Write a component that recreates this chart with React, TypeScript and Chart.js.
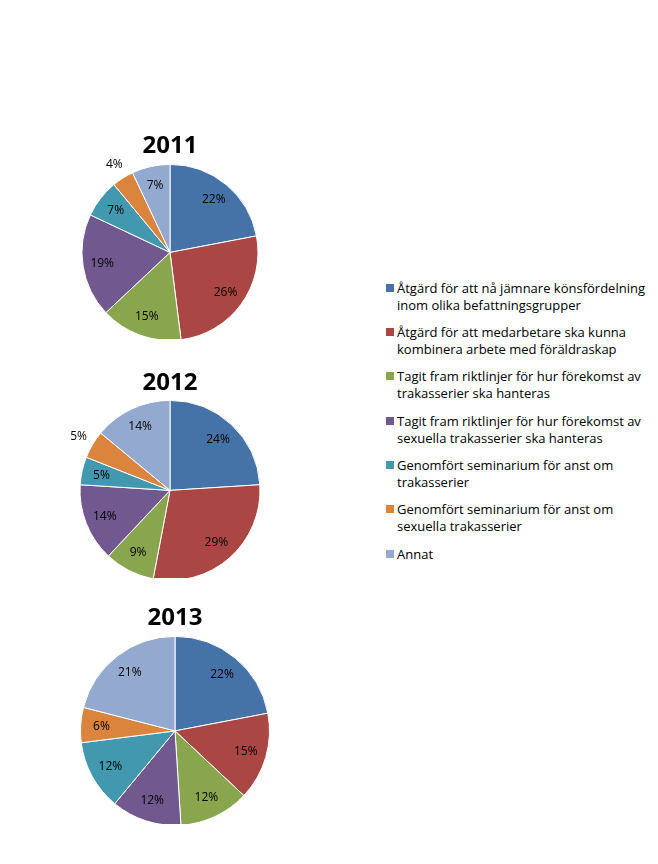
import React, { useEffect, useRef } from "react";
import { Chart, registerables } from "chart.js";

Chart.register(...registerables);

const categories: string[][] = [
  ["Åtgärd för att nå jämnare könsfördelning", "inom olika befattningsgrupper"],
  ["Åtgärd för att medarbetare ska kunna", "kombinera arbete med föräldraskap"],
  ["Tagit fram riktlinjer för hur förekomst av", "trakasserier ska hanteras"],
  ["Tagit fram riktlinjer för hur förekomst av", "sexuella trakasserier ska hanteras"],
  ["Genomfört seminarium för anst om", "trakasserier"],
  ["Genomfört seminarium för anst om", "sexuella trakasserier"],
  ["Annat"],
];

const years = ["2011", "2012", "2013"];
const values2011 = [22, 26, 15, 19, 7, 4, 7];
const values2012 = [24, 29, 9, 14, 5, 5, 14];
const values2013 = [22, 15, 12, 12, 12, 6, 21];
const outside2011 = [5];
const outside2012 = [5];
const outside2013: number[] = [];

const colors = ["#4572A7", "#AA4643", "#89A54E", "#71588F", "#4198AF", "#DB843D", "#93A9CF"];

const pctLabels = {
  id: "pctLabels",
  afterDatasetsDraw(chart: any, _args: any, opts: any) {
    const ctx = chart.ctx;
    const meta = chart.getDatasetMeta(0);
    const data = chart.data.datasets[0].data;
    const outside: number[] = (opts && opts.outside) || [];
    ctx.save();
    ctx.font = "12px 'Open Sans'";
    ctx.fillStyle = "#000";
    ctx.textAlign = "center";
    ctx.textBaseline = "middle";
    meta.data.forEach((arc: any, i: number) => {
      const p = arc.getProps(["x", "y", "startAngle", "endAngle", "outerRadius"], true);
      const mid = (p.startAngle + p.endAngle) / 2;
      const f = outside.includes(i) ? 1.18 : 0.78;
      ctx.fillText(
        data[i] + "%",
        p.x + Math.cos(mid) * p.outerRadius * f,
        p.y + Math.sin(mid) * p.outerRadius * f
      );
    });
    ctx.restore();
  },
};

type PieProps = {
  year: string;
  values: number[];
  outside: number[];
  left: number;
  top: number;
  width: number;
  height: number;
  radius: number;
};

function Pie({ year, values, outside, left, top, width, height, radius }: PieProps) {
  const ref = useRef<HTMLCanvasElement | null>(null);
  useEffect(() => {
    if (!ref.current) return;
    const chart = new Chart(ref.current, {
      type: "pie",
      data: {
        labels: categories.map((c) => c.join(" ")),
        datasets: [
          {
            data: values,
            backgroundColor: colors,
            borderColor: "#ffffff",
            borderWidth: 1,
          },
        ],
      },
      options: {
        responsive: false,
        animation: false,
        radius: radius,
        layout: { padding: 0 },
        plugins: {
          legend: { display: false },
          tooltip: { enabled: false },
          title: {
            display: true,
            text: year,
            color: "#000",
            font: { family: "'Open Sans'", size: 24, weight: "bold" },
            padding: { top: 7, bottom: 5 },
          },
          pctLabels: { outside },
        } as any,
      } as any,
      plugins: [pctLabels],
    });
    return () => chart.destroy();
  }, []);
  return (
    <canvas
      ref={ref}
      width={width}
      height={height}
      style={{ position: "absolute", left, top, width, height }}
    />
  );
}

export default function App() {
  return (
    <div>
      <Pie year={years[0]} values={values2011} outside={outside2011} left={60} top={125} width={220} height={214} radius={88} />
      <Pie year={years[1]} values={values2012} outside={outside2012} left={60} top={362} width={220} height={216} radius={90} />
      <Pie year={years[2]} values={values2013} outside={outside2013} left={65} top={597} width={220} height={227} radius={94.5} />
      <div
        style={{
          position: "absolute",
          left: 386,
          top: 279.5,
          width: 272,
          fontFamily: "'Open Sans'",
          fontSize: 13,
          color: "#000",
        }}
      >
        {categories.map((lines, i) => (
          <div key={i} style={{ position: "relative", height: 44.4 }}>
            <span
              style={{
                position: "absolute",
                left: 0,
                top: 4,
                width: 8,
                height: 8,
                background: colors[i],
              }}
            />
            <div style={{ position: "absolute", left: 11, top: 0, lineHeight: "17px", whiteSpace: "nowrap" }}>
              {lines.map((l, j) => (
                <div key={j}>{l}</div>
              ))}
            </div>
          </div>
        ))}
      </div>
    </div>
  );
}
